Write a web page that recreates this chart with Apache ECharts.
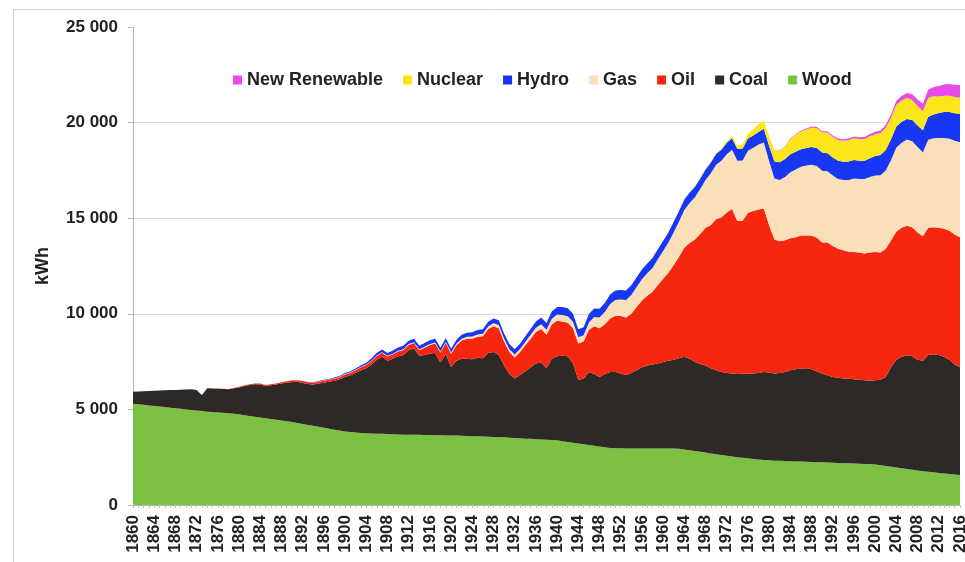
<!DOCTYPE html>
<html>
<head>
<meta charset="utf-8">
<script src="https://cdn.jsdelivr.net/npm/echarts@6.0.0/dist/echarts.min.js"></script>
<style>
  html, body { margin: 0; padding: 0; background: #fff; }
  #chart { width: 965px; height: 562px; }
</style>
</head>
<body>
<div id="chart"></div>
<script>
// years 1860 .. 2016, one category per year
var years = [];
for (var y = 1860; y <= 2016; y++) years.push(String(y));

var yTicks = [0, 5000, 10000, 15000, 20000, 25000];

// kWh per person, one value per year, one line per decade
var wood = [
  5300, 5270, 5240, 5210, 5180, 5150, 5120, 5090, 5060, 5030,
  5000, 4970, 4940, 4910, 4880, 4860, 4840, 4820, 4800, 4770,
  4740, 4700, 4660, 4620, 4580, 4540, 4500, 4460, 4420, 4380,
  4340, 4290, 4240, 4190, 4140, 4090, 4040, 3990, 3940, 3900,
  3850, 3820, 3790, 3770, 3750, 3740, 3730, 3720, 3710, 3700,
  3690, 3680, 3680, 3670, 3670, 3660, 3660, 3650, 3650, 3640,
  3640, 3630, 3620, 3610, 3600, 3590, 3580, 3570, 3560, 3550,
  3540, 3520, 3500, 3490, 3470, 3460, 3440, 3430, 3410, 3400,
  3380, 3340, 3300, 3260, 3220, 3180, 3140, 3100, 3060, 3020,
  2980, 2970, 2970, 2960, 2960, 2960, 2960, 2960, 2960, 2960,
  2960, 2950, 2950, 2940, 2900, 2860, 2820, 2780, 2740, 2700,
  2660, 2620, 2580, 2540, 2500, 2470, 2440, 2410, 2380, 2360,
  2340, 2320, 2310, 2300, 2290, 2280, 2270, 2260, 2250, 2240,
  2230, 2220, 2210, 2200, 2190, 2180, 2170, 2160, 2150, 2140,
  2120, 2080, 2040, 2000, 1960, 1920, 1880, 1840, 1800, 1770,
  1740, 1710, 1680, 1650, 1620, 1590, 1570
];

var coal = [
  620, 660, 710, 750, 800, 840, 880, 920, 960, 1000,
  1040, 1090, 1080, 840, 1220, 1230, 1240, 1250, 1250, 1330,
  1410, 1520, 1620, 1700, 1720, 1690, 1760, 1840, 1930, 2020,
  2090, 2150, 2140, 2140, 2160, 2260, 2360, 2450, 2560, 2680,
  2850, 2960, 3110, 3280, 3400, 3610, 3870, 4030, 3840, 3950,
  4090, 4170, 4420, 4510, 4130, 4190, 4260, 4300, 3800, 4260,
  3580, 3920, 4030, 4040, 4020, 4110, 4100, 4380, 4440, 4300,
  3760, 3330, 3120, 3310, 3530, 3740, 3960, 4020, 3740, 4250,
  4400, 4460, 4480, 4140, 3330, 3420, 3810, 3750, 3640, 3830,
  3980, 3980, 3910, 3840, 3940, 4090, 4240, 4340, 4390, 4440,
  4520, 4600, 4650, 4740, 4850, 4790, 4660, 4600, 4560, 4450,
  4390, 4330, 4320, 4340, 4350, 4400, 4440, 4470, 4520, 4600,
  4590, 4560, 4590, 4650, 4760, 4820, 4870, 4890, 4850, 4740,
  4650, 4560, 4490, 4450, 4430, 4420, 4410, 4390, 4380, 4360,
  4400, 4470, 4660, 5200, 5640, 5830, 5950, 5940, 5800, 5780,
  6110, 6170, 6170, 6100, 5980, 5760, 5630
];

var oil = [
  0, 0, 0, 0, 0, 0, 0, 0, 0, 0,
  0, 0, 0, 0, 5, 5, 10, 10, 15, 20,
  30, 30, 40, 40, 50, 50, 60, 60, 70, 70,
  80, 80, 90, 90, 100, 100, 110, 110, 120, 120,
  130, 140, 150, 160, 170, 180, 200, 210, 220, 230,
  250, 260, 270, 290, 300, 380, 450, 500, 520, 580,
  680, 800, 950, 1050, 1080, 1100, 1150, 1250, 1350, 1400,
  1250, 1150, 1100, 1200, 1350, 1500, 1650, 1750, 1750, 1800,
  1850, 1800, 1750, 1850, 1900, 1950, 2200, 2500, 2550, 2600,
  2800, 2950, 3000, 3000, 3100, 3300, 3500, 3650, 3800, 4100,
  4350, 4600, 4950, 5300, 5700, 6050, 6400, 6800, 7200, 7500,
  7900, 8100, 8400, 8600, 8000, 8000, 8400, 8500, 8550, 8550,
  7700, 7000, 6900, 6900, 6900, 6900, 6950, 6950, 7000, 7000,
  6850, 6950, 6850, 6750, 6700, 6650, 6650, 6650, 6620, 6700,
  6710, 6650, 6700, 6650, 6700, 6750, 6780, 6750, 6650, 6500,
  6650, 6650, 6650, 6700, 6750, 6800, 6800
];

var gas = [
  0, 0, 0, 0, 0, 0, 0, 0, 0, 0,
  0, 0, 0, 0, 0, 0, 0, 0, 0, 0,
  0, 0, 0, 0, 0, 0, 0, 0, 0, 0,
  0, 0, 0, 0, 0, 10, 10, 10, 15, 15,
  20, 20, 20, 25, 25, 30, 30, 30, 35, 35,
  40, 40, 45, 45, 50, 50, 55, 55, 55, 60,
  70, 80, 90, 100, 110, 120, 130, 140, 150, 160,
  160, 150, 150, 160, 180, 200, 220, 250, 260, 290,
  330, 340, 340, 330, 320, 330, 400, 480, 560, 640,
  750, 820, 870, 920, 980, 1050, 1110, 1170, 1250, 1350,
  1450, 1580, 1720, 1850, 1980, 2100, 2220, 2350, 2500, 2700,
  2850, 2950, 3050, 3100, 3150, 3150, 3250, 3300, 3400, 3450,
  3350, 3200, 3200, 3300, 3450, 3550, 3600, 3650, 3700, 3750,
  3750, 3720, 3680, 3650, 3680, 3750, 3850, 3850, 3900, 3950,
  4000, 4050, 4100, 4200, 4400, 4450, 4500, 4500, 4480, 4400,
  4600, 4650, 4700, 4750, 4800, 4900, 4970
];

var hydro = [
  0, 0, 0, 0, 0, 0, 0, 0, 0, 0,
  0, 0, 0, 0, 0, 0, 0, 0, 0, 0,
  0, 0, 0, 0, 0, 0, 0, 0, 0, 0,
  10, 10, 15, 15, 20, 20, 25, 30, 35, 40,
  50, 60, 70, 80, 100, 110, 130, 140, 150, 160,
  170, 175, 180, 185, 185, 190, 190, 195, 195, 200,
  200, 205, 210, 215, 220, 230, 235, 240, 250, 255,
  260, 265, 270, 280, 300, 310, 330, 350, 360, 380,
  400, 410, 420, 420, 420, 420, 440, 450, 460, 480,
  500, 500, 500, 500, 510, 510, 510, 510, 520, 520,
  530, 530, 540, 550, 550, 550, 550, 550, 550, 560,
  570, 580, 600, 600, 620, 630, 640, 650, 660, 720,
  800, 880, 920, 940, 940, 930, 920, 920, 930, 940,
  950, 950, 950, 950, 950, 960, 960, 950, 950, 980,
  1020, 1050, 1070, 1090, 1100, 1090, 1080, 1100, 1120, 1150,
  1200, 1250, 1300, 1350, 1400, 1440, 1480
];

var nuclear = [
  0, 0, 0, 0, 0, 0, 0, 0, 0, 0,
  0, 0, 0, 0, 0, 0, 0, 0, 0, 0,
  0, 0, 0, 0, 0, 0, 0, 0, 0, 0,
  0, 0, 0, 0, 0, 0, 0, 0, 0, 0,
  0, 0, 0, 0, 0, 0, 0, 0, 0, 0,
  0, 0, 0, 0, 0, 0, 0, 0, 0, 0,
  0, 0, 0, 0, 0, 0, 0, 0, 0, 0,
  0, 0, 0, 0, 0, 0, 0, 0, 0, 0,
  0, 0, 0, 0, 0, 0, 0, 0, 0, 0,
  0, 0, 0, 0, 0, 0, 0, 0, 0, 0,
  0, 0, 0, 0, 0, 10, 15, 20, 25, 30,
  40, 60, 80, 110, 150, 200, 250, 320, 400, 420,
  480, 550, 600, 680, 780, 880, 930, 970, 1020, 1040,
  1060, 1080, 1080, 1090, 1100, 1120, 1140, 1140, 1140, 1150,
  1140, 1150, 1150, 1120, 1140, 1120, 1100, 1050, 1020, 1000,
  990, 950, 870, 850, 850, 850, 850
];

var renewable = [
  0, 0, 0, 0, 0, 0, 0, 0, 0, 0,
  0, 0, 0, 0, 0, 0, 0, 0, 0, 0,
  0, 0, 0, 0, 0, 0, 0, 0, 0, 0,
  0, 0, 0, 0, 0, 0, 0, 0, 0, 0,
  0, 0, 0, 0, 0, 0, 0, 0, 0, 0,
  0, 0, 0, 0, 0, 0, 0, 0, 0, 0,
  0, 0, 0, 0, 0, 0, 0, 0, 0, 0,
  0, 0, 0, 0, 0, 0, 0, 0, 0, 0,
  0, 0, 0, 0, 0, 0, 0, 0, 0, 0,
  0, 0, 0, 0, 0, 0, 0, 0, 0, 0,
  0, 0, 0, 0, 0, 0, 0, 0, 0, 0,
  0, 0, 0, 0, 0, 0, 0, 0, 0, 0,
  10, 15, 20, 25, 30, 35, 40, 45, 50, 55,
  60, 65, 70, 75, 80, 85, 90, 100, 110, 120,
  130, 140, 160, 180, 200, 230, 260, 300, 340, 380,
  430, 480, 540, 590, 620, 640, 660
];

var font = "'Liberation Sans', Arial, sans-serif";

function areaSeries(name, data, color) {
  return {
    name: name,
    type: 'line',
    stack: 'energy',
    symbol: 'none',
    data: data,
    itemStyle: { color: color },
    lineStyle: { width: 0 },
    areaStyle: { color: color, opacity: 1 }
  };
}

var myChart = echarts.init(document.getElementById('chart'));
var option = {
  animation: false,
  backgroundColor: '#fff',
  graphic: [{
    type: 'rect',
    left: 11, top: 7,
    shape: { width: 1000, height: 600 },
    style: { fill: 'none', stroke: '#d2d2d2', lineWidth: 1 },
    z: -1
  }],
  legend: {
    left: 228,
    top: 66,
    icon: 'rect',
    itemWidth: 9,
    itemHeight: 9,
    itemGap: 20,
    textStyle: { fontFamily: font, fontSize: 18, fontWeight: 'bold', color: '#222' },
    data: ['New Renewable', 'Nuclear', 'Hydro', 'Gas', 'Oil', 'Coal', 'Wood']
  },
  grid: {
    left: 133,
    right: 5,
    top: 27,
    bottom: 57,
    outerBoundsMode: 'none'
  },
  xAxis: {
    type: 'category',
    boundaryGap: false,
    data: years,
    axisLine: { lineStyle: { color: '#b5b5b5' } },
    axisTick: { interval: 0, length: 3, lineStyle: { color: '#bdbdbd' } },
    axisLabel: {
      interval: 3,
      rotate: 90,
      margin: 10,
      fontFamily: font,
      fontSize: 17,
      fontWeight: 'bold',
      color: '#222'
    }
  },
  yAxis: {
    type: 'value',
    min: yTicks[0],
    max: yTicks[yTicks.length - 1],
    interval: 5000,
    name: 'kWh',
    nameLocation: 'middle',
    nameGap: 81,
    nameTextStyle: { fontFamily: font, fontSize: 18, fontWeight: 'bold', color: '#222' },
    axisLine: { show: true, lineStyle: { color: '#b5b5b5' } },
    axisTick: { show: true, length: 5, lineStyle: { color: '#b5b5b5' } },
    splitLine: {
      lineStyle: { color: ['#d9d9d9', '#d9d9d9', '#d9d9d9', '#d9d9d9', '#d9d9d9', 'rgba(0,0,0,0)'] }
    },
    axisLabel: {
      margin: 15,
      fontFamily: font,
      fontSize: 17,
      fontWeight: 'bold',
      color: '#222',
      formatter: function (v) {
        return String(v).replace(/\B(?=(\d{3})+(?!\d))/g, ' ');
      }
    }
  },
  series: [
    areaSeries('Wood', wood, '#7dc142'),
    areaSeries('Coal', coal, '#2e2926'),
    areaSeries('Oil', oil, '#f7270f'),
    areaSeries('Gas', gas, '#fbdfb8'),
    areaSeries('Hydro', hydro, '#1837f2'),
    areaSeries('Nuclear', nuclear, '#fbe61a'),
    areaSeries('New Renewable', renewable, '#e84ce8')
  ]
};
myChart.setOption(option);
</script>
</body>
</html>
